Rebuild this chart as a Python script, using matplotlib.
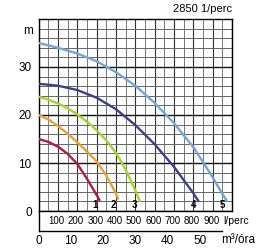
import numpy as np
import matplotlib
matplotlib.use("Agg")
import matplotlib.pyplot as plt
from matplotlib.transforms import blended_transform_factory

plt.rcParams['font.family'] = ['Liberation Sans', 'DejaVu Sans']

# ---- data (flow in l/perc, head in m) ----
q1 = [0, 50, 100, 150, 200, 250, 300, 317]
h1 = [15, 14.4, 13.4, 11.9, 9.8, 6.7, 3.3, 2.1]

q2 = [0, 50, 100, 150, 200, 250, 300, 350, 400, 412]
h2 = [20, 19.1, 17.7, 16.1, 14.3, 12.4, 10.3, 7.4, 3.6, 2.4]

q3 = [0, 50, 100, 150, 200, 250, 300, 350, 400, 450, 500, 524]
h3 = [23.8, 23.2, 22.4, 21.4, 20.1, 18.6, 16.8, 14.7, 12.1, 8.6, 4.3, 1.9]

q4 = [0, 100, 200, 300, 400, 500, 600, 700, 800, 829]
h4 = [26.5, 26.1, 25.2, 23.6, 21.2, 17.9, 13.9, 9.2, 3.7, 1.9]

q5 = [0, 100, 200, 300, 400, 500, 600, 700, 800, 850, 900, 950, 976]
h5 = [35, 34, 32.8, 31.2, 28.9, 26.1, 22.5, 18.3, 13.3, 10.2, 7.0, 3.6, 1.9]

curve_labels = ["1", "2", "3", "4", "5"]
colors = ["#b31b40", "#e6a03a", "#a5d42c", "#3d3f8c", "#74a6d6"]

lpm_ticks = [100, 200, 300, 400, 500, 600, 700, 800, 900]
m3h_ticks = [0, 10, 20, 30, 40, 50]
y_ticks = [0, 10, 20, 30]

W, H = 270, 250
fig = plt.figure(figsize=(W / 100, H / 100), dpi=100)

def box(x0, y0, x1, y1):
    return [x0 / W, 1 - y1 / H, (x1 - x0) / W, (y1 - y0) / H]

ax = fig.add_axes(box(38.7, 19, 232, 211))
ax.set_xlim(0, 1000)
ax.set_ylim(0, 40)

# grid
ax.set_xticks(np.arange(0, 1001, 100))
ax.set_xticks(np.arange(50, 1000, 100), minor=True)
ax.set_yticks(y_ticks)
ax.set_yticks(np.arange(0, 41, 2), minor=True)
ax.grid(which='major', axis='x', color='#333333', lw=0.8)
ax.grid(which='minor', axis='x', color='#777777', lw=0.7)
ax.grid(which='major', axis='y', color='#111111', lw=1.0)
ax.grid(which='minor', axis='y', color='#666666', lw=0.7)
ax.set_axisbelow(True)
ax.tick_params(axis='both', which='both', length=0)
ax.tick_params(axis='x', labelbottom=False)
ax.tick_params(axis='y', labelsize=8.5, pad=5)
for s in ax.spines.values():
    s.set_linewidth(1.0)
    s.set_color('black')

qs = [q1, q2, q3, q4, q5]
hs = [h1, h2, h3, h4, h5]
for q, h, c, lab in zip(qs, hs, colors, curve_labels):
    ax.plot(q, h, color=c, lw=1.7, solid_capstyle='butt', solid_joinstyle='round', zorder=3)
    ax.text(q[-1] - 27, 1.3, lab, ha='center', va='center',
            fontsize=7, fontweight='bold', zorder=4)

ax.text(-0.03, 37.5, "m", transform=blended_transform_factory(ax.transAxes, ax.transData),
        ha='right', va='center', fontsize=8.5)
ax.text(1.0, 1.025, "2850 1/perc", transform=ax.transAxes, ha='right', va='bottom',
        fontsize=8)

# lower band with l/perc labels and m3/h axis
ax2 = fig.add_axes(box(38.7, 211, 232, 231))
ax2.set_xlim(0, 60)
ax2.set_ylim(0, 1)
ax2.set_facecolor('none')
ax2.spines['top'].set_visible(False)
ax2.spines['right'].set_visible(False)
ax2.spines['left'].set_linewidth(1.0)
ax2.spines['bottom'].set_linewidth(1.0)
ax2.spines['bottom'].set_bounds(0, 57)
ax2.set_yticks([])
ax2.set_xticks(m3h_ticks)
ax2.set_xticklabels([str(t) for t in m3h_ticks])
ax2.tick_params(axis='x', length=0, labelsize=8.5, pad=3)

tr = blended_transform_factory(ax2.transData, ax2.transAxes)
for t in lpm_ticks:
    ax2.text(t * 60 / 1000 - 0.4, 0.5, str(t), transform=tr, ha='center', va='center',
             fontsize=7)
ax2.text(0.953, 0.5, "l/perc", transform=ax2.transAxes, ha='left', va='center', fontsize=7.5)
ax2.text(0.945, -0.45, "m³/óra", transform=ax2.transAxes, ha='left', va='center', fontsize=8.5)

fig.savefig("out.png", dpi=100)
